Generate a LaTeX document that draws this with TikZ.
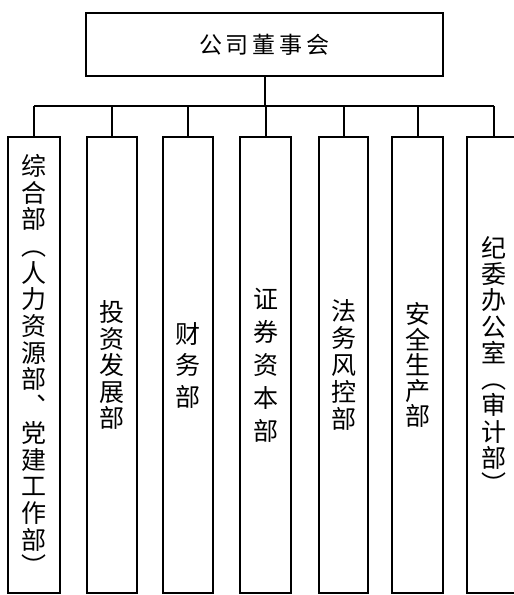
\documentclass[tikz,border=0pt]{standalone}
\usepackage{fontspec}
\newfontfamily\cjk{Noto Sans CJK SC}
\usetikzlibrary{positioning}
\tikzset{
  orgbox/.style={draw, line width=2pt, inner sep=0pt},
  dept/.style={orgbox, minimum height=456pt, align=center,
    font=\cjk\fontsize{25}{#1}\selectfont},
  link/.style={line width=2pt}
}

\begin{document}
\begin{tikzpicture}[x=1pt,y=-1pt]
    \useasboundingbox (0,0) rectangle (514,595);

    \node[orgbox, minimum width=357pt, minimum height=63pt,
      font=\cjk\fontsize{23}{23}\selectfont] (board) at (264.5,44.5)
      {公\hspace{4pt}司\hspace{4pt}董\hspace{4pt}事\hspace{4pt}会};

    \coordinate (bus) at (264.5,106);

    \node[dept=26.7, minimum width=52pt] (d1) at (34,365)
      {综\\合\\部\\︵\\人\\力\\资\\源\\部\\︑\\党\\建\\工\\作\\部\\︶};
    \node[dept=26.5, minimum width=50pt] (d2) at (112,365)
      {投\\资\\发\\展\\部};
    \node[dept=31.5, minimum width=50pt] (d3) at (188,365)
      {财\\务\\部};
    \node[dept=33, minimum width=51pt] (d4) at (265.5,365)
      {证\\券\\资\\本\\部};
    \node[dept=27, minimum width=49pt] (d5) at (343.5,365)
      {法\\务\\风\\控\\部};
    \node[dept=25.5, minimum width=51pt] (d6) at (417.5,365)
      {安\\全\\生\\产\\部};
    \node[dept=26.3, minimum width=54pt] (d7) at (494,365)
      {纪\\委\\办\\公\\室\\︵\\审\\计\\部\\︶};

% ---- connectors
    \draw[link] (board.south) -- (bus);
    \draw[link] (d1.north |- bus) -- (d7.north |- bus);
    \foreach \i in {1,...,7}{
      \draw[link] (d\i.north) -- (d\i.north |- bus);
    }
\end{tikzpicture}
\end{document}
